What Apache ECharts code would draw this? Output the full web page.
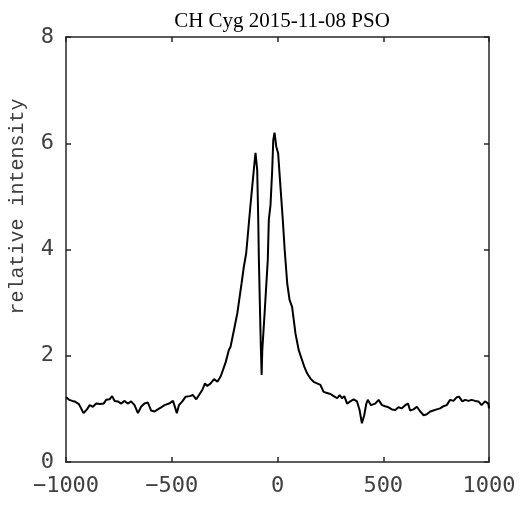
<!DOCTYPE html>
<html>
<head>
<meta charset="utf-8">
<script src="https://cdn.jsdelivr.net/npm/echarts@6/dist/echarts.min.js"></script>
<style>html,body{margin:0;padding:0;background:#fff}#c{width:525px;height:512px}</style>
</head>
<body>
<div id="c"></div>
<script>
const titleText = "CH Cyg 2015-11-08 PSO";
const yAxisName = "relative intensity";
const xTicks = [-1000, -500, 0, 500, 1000];
const yTicks = [0, 2, 4, 6, 8];
const velocity = [-1000,-985,-970,-959,-939,-917,-901,-888,-873,-857,-838,-822,-810,-794,-782,-770,-755,-739,-723,-708,-692,-676,-660,-645,-629,-613,-598,-582,-566,-550,-534,-513,-494,-476,-466,-450,-434,-415,-400,-384,-371,-355,-343,-332,-316,-300,-284,-269,-258,-245,-230,-222,-206,-190,-179,-170,-159,-148,-127,-112,-104,-96,-91,-88,-79,-75,-72,-61,-46,-41,-33,-28,-25,-20,-14,-6,3,14,25,34,46,57,69,85,100,116,127,140,156,171,187,203,218,234,250,266,282,294,305,316,329,344,360,376,388,399,410,420,427,442,462,478,494,509,525,541,557,572,588,604,617,627,643,659,675,691,706,722,737,753,769,785,800,816,832,848,858,874,887,903,918,934,950,965,981,997,1000];
const intensity = [1.22,1.17,1.15,1.14,1.09,0.92,0.99,1.07,1.04,1.10,1.09,1.10,1.17,1.18,1.24,1.15,1.14,1.10,1.15,1.10,1.14,1.07,0.92,1.04,1.10,1.12,0.97,0.95,0.99,1.03,1.07,1.10,1.15,0.92,1.07,1.14,1.23,1.24,1.26,1.18,1.26,1.36,1.48,1.43,1.48,1.56,1.51,1.61,1.73,1.88,2.11,2.17,2.48,2.80,3.11,3.36,3.68,3.93,4.87,5.50,5.82,5.50,4.56,3.80,2.20,1.64,2.10,2.80,3.80,4.56,4.84,4.87,5.50,6.06,6.20,5.94,5.81,5.18,4.56,3.99,3.36,3.05,2.92,2.42,2.11,1.92,1.79,1.67,1.57,1.51,1.48,1.45,1.32,1.30,1.28,1.24,1.20,1.26,1.20,1.24,1.10,1.14,1.18,1.14,0.98,0.73,0.88,1.10,1.17,1.07,1.10,1.17,1.07,1.05,1.03,0.99,0.98,1.03,1.01,1.07,1.10,0.97,0.99,1.04,0.95,0.88,0.90,0.95,0.97,0.99,1.01,1.05,1.07,1.17,1.15,1.22,1.23,1.14,1.17,1.15,1.17,1.15,1.14,1.07,1.14,1.10,1.01];

const pts = velocity.map((v, i) => [v, intensity[i]]);
const axisColor = '#262626';
const labelColor = '#404040';
const monoFont = '"DejaVu Sans Mono", monospace';
const fmt = v => String(v).replace('-', '\u2212');

const chart = echarts.init(document.getElementById('c'), null, {renderer: 'canvas'});
chart.setOption({
  animation: false,
  backgroundColor: '#fff',
  title: {
    text: titleText,
    left: 277, top: 6, textAlign: 'center',
    textStyle: {fontFamily: '"Liberation Serif", serif', fontSize: 21, fontWeight: 'normal', color: '#000'}
  },
  grid: {left: 65, right: 36, top: 37, bottom: 50, containLabel: false},
  xAxis: [{
    type: 'value', min: xTicks[0], max: xTicks[xTicks.length - 1], interval: 500,
    position: 'bottom',
    axisLine: {show: true, onZero: false, lineStyle: {color: axisColor, width: 1.5}},
    axisTick: {show: true, inside: true, length: 5, lineStyle: {color: axisColor, width: 1.5}},
    axisLabel: {margin: 13, fontFamily: monoFont, fontSize: 22, color: labelColor, formatter: fmt},
    splitLine: {show: false}
  }, {
    type: 'value', min: xTicks[0], max: xTicks[xTicks.length - 1], interval: 500,
    position: 'top',
    axisLine: {show: true, onZero: false, lineStyle: {color: axisColor, width: 1.5}},
    axisTick: {show: true, inside: true, length: 5, lineStyle: {color: axisColor, width: 1.5}},
    axisLabel: {show: false}, splitLine: {show: false}
  }],
  yAxis: [{
    type: 'value', min: yTicks[0], max: yTicks[yTicks.length - 1], interval: 2,
    position: 'left',
    name: yAxisName, nameLocation: 'middle', nameGap: 38, nameRotate: 90,
    nameTextStyle: {fontFamily: '"Liberation Mono", monospace', fontSize: 20, color: labelColor, padding: [0, 0, 0, 86]},
    axisLine: {show: true, onZero: false, lineStyle: {color: axisColor, width: 1.5}},
    axisTick: {show: true, inside: true, length: 5, lineStyle: {color: axisColor, width: 1.5}},
    axisLabel: {margin: 12, fontFamily: monoFont, fontSize: 22, color: labelColor, formatter: fmt},
    splitLine: {show: false}
  }, {
    type: 'value', min: yTicks[0], max: yTicks[yTicks.length - 1], interval: 2,
    position: 'right',
    axisLine: {show: true, onZero: false, lineStyle: {color: axisColor, width: 1.5}},
    axisTick: {show: true, inside: true, length: 5, lineStyle: {color: axisColor, width: 1.5}},
    axisLabel: {show: false}, splitLine: {show: false}
  }],
  series: [{
    type: 'line', xAxisIndex: 0, yAxisIndex: 0,
    data: pts, showSymbol: false, symbol: 'none',
    lineStyle: {color: '#000', width: 2},
    z: 3
  }]
});
</script>
</body>
</html>
